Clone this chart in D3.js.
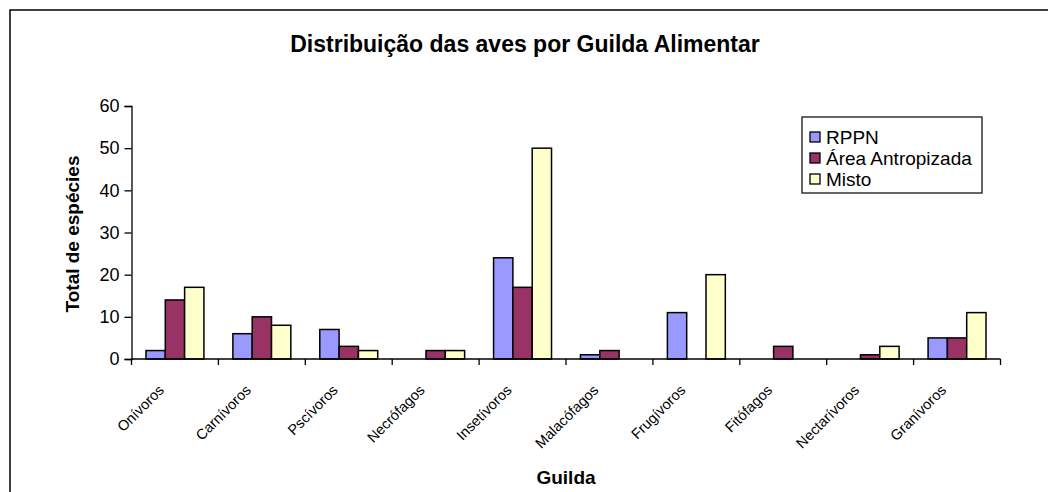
<!DOCTYPE html>
<html>
<head>
<meta charset="utf-8">
<script src="https://cdn.jsdelivr.net/npm/d3@7"></script>
<style>
body { margin: 0; background: #fff; }
svg { display: block; font-family: Arial, "Liberation Sans", sans-serif; }
</style>
</head>
<body>
<svg id="chart" width="1048" height="492"></svg>
<script>
var guildas = ["Onívoros", "Carnívoros", "Pscívoros", "Necrófagos", "Insetívoros",
    "Malacófagos", "Frugívoros", "Fitófagos", "Nectarívoros", "Granívoros"];
var seriesNames = ["RPPN", "Área Antropizada", "Misto"];
var rppn = [2, 6, 7, 0, 24, 1, 11, 0, 0, 5];
var antropizada = [14, 10, 3, 2, 17, 2, 0, 3, 1, 5];
var misto = [17, 8, 2, 2, 50, 0, 20, 0, 3, 11];
var yTicks = [0, 10, 20, 30, 40, 50, 60];
var serieColors = ["#9999FF", "#993366", "#FFFFCC"];

var svg = d3.select("#chart");

// outer chart border (right / bottom fall outside the picture)
svg.append("rect")
    .attr("x", 10).attr("y", 10)
    .attr("width", 1060).attr("height", 500)
    .attr("fill", "none")
    .attr("stroke", "black")
    .attr("stroke-width", 1.5);

var plotLeft = 131.5, plotRight = 1000.5, plotTop = 106, plotBottom = 359;

var x = d3.scaleBand()
    .domain(guildas)
    .range([plotLeft, plotRight]);
// 3 bars use 3/4.5 of a category, the gap is split on both sides
var xs = d3.scaleBand()
    .domain(seriesNames)
    .range([x.bandwidth() * 0.75 / 4.5, x.bandwidth() * 3.75 / 4.5]);

var y = d3.scaleLinear()
    .domain([0, 60])
    .range([plotBottom, plotTop]);

var rows = guildas.map(function(g, i){
    return [rppn[i], antropizada[i], misto[i]];
});

var groups = svg.selectAll("g.cat")
    .data(rows)
    .enter()
    .append("g")
    .attr("class", "cat")
    .attr("transform", function(d, i){ return "translate(" + x(guildas[i]) + ",0)"; });

groups.selectAll("rect")
    .data(function(d){ return d.map(function(v, j){ return {v: v, j: j}; }); })
    .enter()
    .filter(function(d){ return d.v > 0; })
    .append("rect")
    .attr("x", function(d){ return xs(seriesNames[d.j]); })
    .attr("y", function(d){ return y(d.v); })
    .attr("width", xs.bandwidth())
    .attr("height", function(d){ return plotBottom - y(d.v); })
    .attr("fill", function(d){ return serieColors[d.j]; })
    .attr("stroke", "black")
    .attr("stroke-width", 1.5);

// y axis
var yAxis = svg.append("g")
    .attr("transform", "translate(" + plotLeft + ",0)")
    .call(d3.axisLeft(y).tickValues(yTicks).tickSize(7).tickPadding(5));
yAxis.select(".domain").attr("stroke", "black").attr("stroke-width", 1.3);
yAxis.selectAll(".tick line").attr("stroke", "black").attr("stroke-width", 1.3);
yAxis.selectAll("text")
    .style("font-size", "18px")
    .style("font-family", "Arial, 'Liberation Sans', sans-serif")
    .attr("fill", "black");

// x axis line and boundary ticks
var xAxis = svg.append("g");
xAxis.append("line")
    .attr("x1", plotLeft).attr("x2", plotRight)
    .attr("y1", plotBottom).attr("y2", plotBottom)
    .attr("stroke", "black").attr("stroke-width", 1.3);
var bounds = guildas.map(function(g){ return x(g); }).concat([plotRight]);
xAxis.selectAll("line.tk")
    .data(bounds)
    .enter()
    .append("line")
    .attr("class", "tk")
    .attr("x1", function(d){ return d; })
    .attr("x2", function(d){ return d; })
    .attr("y1", plotBottom)
    .attr("y2", plotBottom + 6)
    .attr("stroke", "black").attr("stroke-width", 1.3);

xAxis.selectAll("text")
    .data(guildas)
    .enter()
    .append("text")
    .attr("transform", function(d){
        return "translate(" + (x(d) + x.bandwidth() / 2 - 10) + "," + 391 + ") rotate(-45)";
    })
    .attr("text-anchor", "end")
    .style("font-size", "14.5px")
    .text(function(d){ return d; });

// titles
svg.append("text")
    .attr("x", 525).attr("y", 52)
    .attr("text-anchor", "middle")
    .style("font-size", "23px")
    .style("font-weight", "bold")
    .text("Distribuição das aves por Guilda Alimentar");

svg.append("text")
    .attr("x", (plotLeft + plotRight) / 2).attr("y", 484)
    .attr("text-anchor", "middle")
    .style("font-size", "19px")
    .style("font-weight", "bold")
    .text("Guilda");

svg.append("text")
    .attr("transform", "translate(79,234) rotate(-90)")
    .attr("text-anchor", "middle")
    .style("font-size", "19px")
    .style("font-weight", "bold")
    .text("Total de espécies");

// legend
var legend = svg.append("g");
legend.append("rect")
    .attr("x", 802).attr("y", 117)
    .attr("width", 180).attr("height", 76)
    .attr("fill", "white")
    .attr("stroke", "black")
    .attr("stroke-width", 1.2);
var items = legend.selectAll("g.item")
    .data(seriesNames)
    .enter()
    .append("g")
    .attr("class", "item")
    .attr("transform", function(d, i){ return "translate(0," + (137 + i * 21) + ")"; });
items.append("rect")
    .attr("x", 810).attr("y", -5)
    .attr("width", 10).attr("height", 10)
    .attr("fill", function(d, i){ return serieColors[i]; })
    .attr("stroke", "black")
    .attr("stroke-width", 1.3);
items.append("text")
    .attr("x", 826).attr("y", 7)
    .style("font-size", "19px")
    .text(function(d){ return d; });
</script>
</body>
</html>
